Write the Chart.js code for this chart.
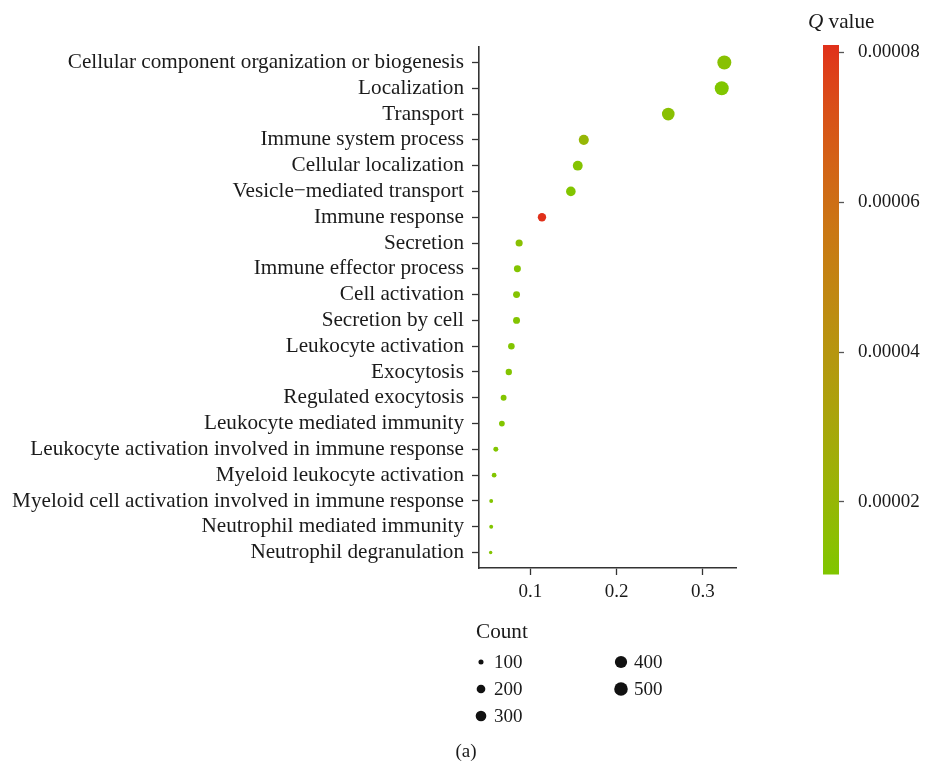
<!DOCTYPE html>
<html>
<head>
<meta charset="utf-8">
<script src="https://cdn.jsdelivr.net/npm/chart.js@4/dist/chart.umd.min.js"></script>
<style>
  html, body { margin: 0; padding: 0; background: #ffffff; }
  #wrap { position: relative; width: 928px; height: 762px; }
  #main { position: absolute; left: 0; top: 0; }
  #qbar { position: absolute; left: 800px; top: 0; }
</style>
</head>
<body>
<div id="wrap">
  <canvas id="main" width="928" height="762"></canvas>
  <canvas id="qbar" width="128" height="600"></canvas>
</div>
<script>
// GO biological process enrichment: gene ratio, gene count and Q value per term
const terms = [
  'Cellular component organization or biogenesis',
  'Localization',
  'Transport',
  'Immune system process',
  'Cellular localization',
  'Vesicle\u2212mediated transport',
  'Immune response',
  'Secretion',
  'Immune effector process',
  'Cell activation',
  'Secretion by cell',
  'Leukocyte activation',
  'Exocytosis',
  'Regulated exocytosis',
  'Leukocyte mediated immunity',
  'Leukocyte activation involved in immune response',
  'Myeloid leukocyte activation',
  'Myeloid cell activation involved in immune response',
  'Neutrophil mediated immunity',
  'Neutrophil degranulation'
];
const geneRatio = [0.325, 0.322, 0.260, 0.162, 0.155, 0.147, 0.1135, 0.087, 0.085, 0.084,
                   0.084, 0.078, 0.075, 0.069, 0.067, 0.060, 0.058, 0.0546, 0.0546, 0.054];
const geneCount = [536, 531, 429, 267, 256, 243, 187, 144, 140, 139,
                   139, 129, 124, 114, 111, 99, 96, 90, 90, 89];
const qValue = [1.35e-5, 1.03e-5, 1.4e-5, 2.0e-5, 1.2e-5, 1.1e-5, 8.1e-5, 1.4e-5, 1.15e-5, 1.25e-5,
                1.15e-5, 1.1e-5, 1.15e-5, 1.1e-5, 1.1e-5, 1.1e-5, 1.1e-5, 1.1e-5, 1.1e-5, 1.15e-5];
const countBreaks = [100, 200, 300, 400, 500];
const xTickStep = 0.1;
const qTickStep = 0.00002;

const SERIF = '"Liberation Serif", "Times New Roman", serif';
const TEXT = '#1a1a1a';
const AXIS = '#333333';

// ---- size scale (area-style, like a dot plot size legend) ----
const cMin = Math.min(...geneCount), cMax = Math.max(...geneCount);
const R_MIN = 1.7, R_MAX = 7.0;
function radius(c) {
  const t = Math.max(0, (c - cMin) / (cMax - cMin));
  return R_MIN + (R_MAX - R_MIN) * Math.sqrt(t);
}

// ---- colour scale: Lab interpolation between low and high ----
const LOW = '#80C600', HIGH = '#E0301A';
function hexToRgb(h) { return [1, 3, 5].map(i => parseInt(h.slice(i, i + 2), 16)); }
function toLin(c) { c /= 255; return c <= 0.04045 ? c / 12.92 : Math.pow((c + 0.055) / 1.055, 2.4); }
function fromLin(c) {
  const v = c <= 0.0031308 ? 12.92 * c : 1.055 * Math.pow(c, 1 / 2.4) - 0.055;
  return Math.round(Math.max(0, Math.min(1, v)) * 255);
}
function rgbToLab(rgb) {
  const [R, G, B] = rgb.map(toLin);
  const X = (0.4124 * R + 0.3576 * G + 0.1805 * B) / 0.95047;
  const Y = (0.2126 * R + 0.7152 * G + 0.0722 * B);
  const Z = (0.0193 * R + 0.1192 * G + 0.9505 * B) / 1.08883;
  const f = t => t > 0.008856 ? Math.cbrt(t) : 7.787 * t + 16 / 116;
  const fx = f(X), fy = f(Y), fz = f(Z);
  return [116 * fy - 16, 500 * (fx - fy), 200 * (fy - fz)];
}
function labToRgb([L, a, b]) {
  const fy = (L + 16) / 116, fx = fy + a / 500, fz = fy - b / 200;
  const fi = t => (t * t * t > 0.008856) ? t * t * t : (t - 16 / 116) / 7.787;
  const X = fi(fx) * 0.95047, Y = fi(fy), Z = fi(fz) * 1.08883;
  const R = 3.2406 * X - 1.5372 * Y - 0.4986 * Z;
  const G = -0.9689 * X + 1.8758 * Y + 0.0415 * Z;
  const B = 0.0557 * X - 0.2040 * Y + 1.0570 * Z;
  return [fromLin(R), fromLin(G), fromLin(B)];
}
const labLow = rgbToLab(hexToRgb(LOW)), labHigh = rgbToLab(hexToRgb(HIGH));
const qMin = Math.min(...qValue), qMax = Math.max(...qValue);
function qColor(q) {
  const t = Math.max(0, Math.min(1, (q - qMin) / (qMax - qMin)));
  const lab = labLow.map((v, i) => v + (labHigh[i] - v) * t);
  const [r, g, b] = labToRgb(lab);
  return `rgb(${r},${g},${b})`;
}

// x range with 5% expansion either side
const rMinX = Math.min(...geneRatio), rMaxX = Math.max(...geneRatio);
const padX = (rMaxX - rMinX) * 0.05;

const numFont = { family: SERIF, size: 19 };
const labelFont = { family: SERIF, size: 21.2 };

// Count key and panel caption drawn under the plot
const countKey = {
  id: 'countKey',
  afterDraw(chart) {
    const c = chart.ctx;
    c.save();
    c.fillStyle = TEXT;
    c.textBaseline = 'middle';
    c.textAlign = 'left';
    c.font = `21.2px ${SERIF}`;
    c.fillText('Count', 476, 632);
    c.font = `19px ${SERIF}`;
    countBreaks.forEach((v, i) => {
      const col = Math.floor(i / 3), row = i % 3;
      const cx = 481 + col * 140, cy = 662 + row * 27;
      c.fillStyle = '#111111';
      c.beginPath();
      c.arc(cx, cy, radius(v), 0, Math.PI * 2);
      c.fill();
      c.fillStyle = TEXT;
      c.fillText(String(v), cx + 13, cy + 1);
    });
    c.textAlign = 'center';
    c.fillText('(a)', 466, 752);
    c.restore();
  }
};

new Chart(document.getElementById('main'), {
  type: 'scatter',
  data: {
    datasets: [{
      data: terms.map((t, i) => ({ x: geneRatio[i], y: i })),
      pointRadius: ctx => radius(geneCount[ctx.dataIndex]),
      pointHoverRadius: ctx => radius(geneCount[ctx.dataIndex]),
      pointBackgroundColor: ctx => qColor(qValue[ctx.dataIndex]),
      pointBorderWidth: 0,
      clip: false
    }]
  },
  options: {
    responsive: false,
    animation: false,
    events: [],
    layout: { padding: { top: 47, right: 192, left: 0, bottom: 0 } },
    plugins: { legend: { display: false }, tooltip: { enabled: false } },
    scales: {
      x: {
        type: 'linear',
        min: rMinX - padX,
        max: rMaxX + padX,
        afterFit: s => { s.height = 194; },
        ticks: {
          stepSize: xTickStep, includeBounds: false, font: numFont, color: TEXT, padding: 6,
          callback: v => Number(v).toFixed(1)
        },
        grid: { drawOnChartArea: false, drawTicks: true, tickLength: 7, tickColor: AXIS, tickWidth: 1.3 },
        border: { display: true, color: AXIS, width: 1.6 }
      },
      y: {
        type: 'linear',
        reverse: true,
        min: -0.6,
        max: terms.length - 1 + 0.6,
        afterFit: s => { s.width = 479; },
        ticks: {
          stepSize: 1, includeBounds: false, autoSkip: false, font: labelFont, color: TEXT, padding: 8,
          callback: v => (Number.isInteger(v) && terms[v]) ? terms[v] : ''
        },
        grid: { drawOnChartArea: false, drawTicks: true, tickLength: 7, tickColor: AXIS, tickWidth: 1.3 },
        border: { display: true, color: AXIS, width: 1.6 }
      }
    }
  },
  plugins: [countKey]
});

// ---- Q value colour bar ----
const qHeading = {
  id: 'qHeading',
  afterDraw(chart) {
    const c = chart.ctx;
    c.save();
    c.fillStyle = TEXT;
    c.textBaseline = 'middle';
    c.textAlign = 'left';
    c.font = `italic 21.2px ${SERIF}`;
    c.fillText('Q', 8, 22);
    const w = c.measureText('Q').width;
    c.font = `21.2px ${SERIF}`;
    c.fillText(' value', 8 + w, 22);
    c.restore();
  }
};

new Chart(document.getElementById('qbar'), {
  type: 'bar',
  data: {
    labels: ['Q'],
    datasets: [{
      data: [[qMin, qMax]],
      barPercentage: 1,
      categoryPercentage: 1,
      borderWidth: 0,
      backgroundColor: ctx => {
        const area = ctx.chart.chartArea;
        if (!area) return LOW;
        const g = ctx.chart.ctx.createLinearGradient(0, area.bottom, 0, area.top);
        for (let i = 0; i <= 40; i++) {
          g.addColorStop(i / 40, qColor(qMin + (qMax - qMin) * i / 40));
        }
        return g;
      }
    }]
  },
  options: {
    responsive: false,
    animation: false,
    events: [],
    layout: { padding: { top: 45, bottom: 25, left: 23, right: 0 } },
    plugins: { legend: { display: false }, tooltip: { enabled: false } },
    scales: {
      x: { display: false },
      y: {
        position: 'right',
        min: qMin,
        max: qMax,
        afterFit: s => { s.width = 89; },
        ticks: {
          stepSize: qTickStep, includeBounds: false, font: numFont, color: TEXT, padding: 14,
          callback: v => Number(v).toFixed(5)
        },
        grid: { drawOnChartArea: false, drawTicks: true, tickLength: 5, tickColor: '#555555', tickWidth: 1.3 },
        border: { display: false }
      }
    }
  },
  plugins: [qHeading]
});
</script>
</body>
</html>
